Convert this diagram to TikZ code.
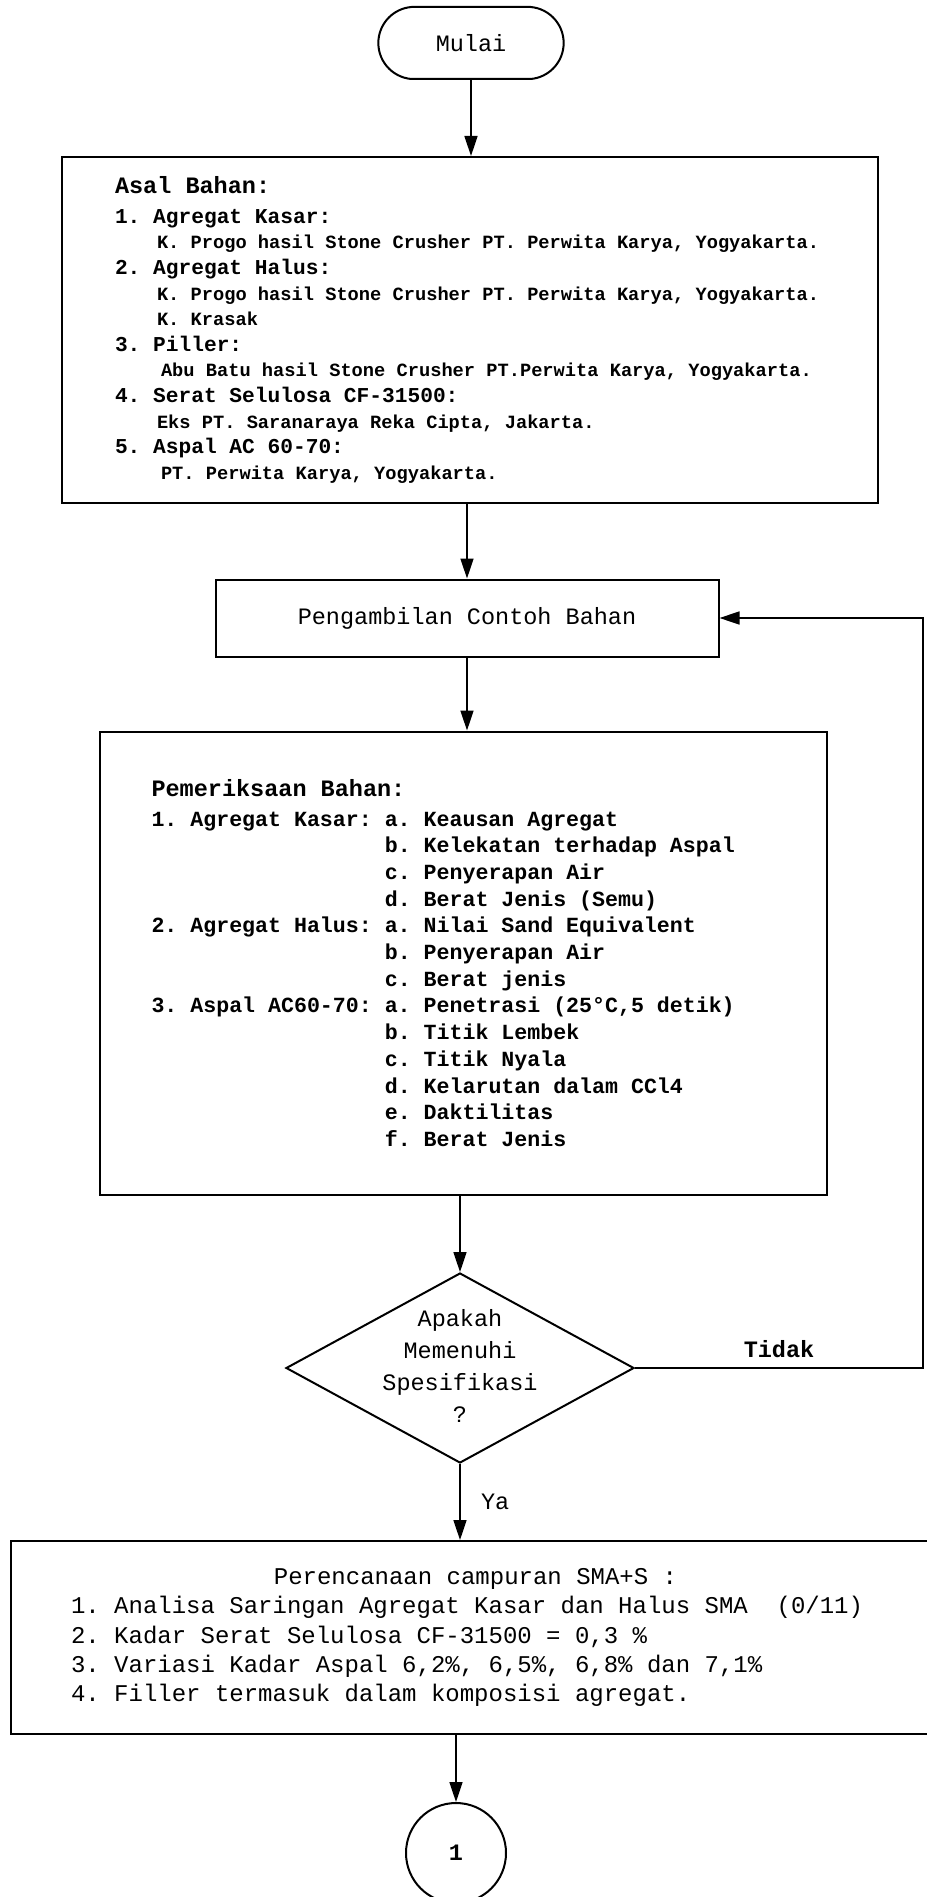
\documentclass[tikz,border=0pt]{standalone}
\usepackage{fontspec}
\setmainfont{Liberation Mono}
\usetikzlibrary{shapes, arrows.meta, positioning, calc}

\newcommand{\teksbesar}{\fontsize{23.5}{32.3}\selectfont}
\newcommand{\tekskecil}{\fontsize{18.7}{25.6}\selectfont}
\newcommand{\butir}[1]{{\fontsize{21.2}{25.6}\selectfont #1}}
\newcommand{\sisip}{\hphantom{1. Agregat Kasar: }}
% monospace: keep the font's own word space
\newcommand{\spasi}{\frenchspacing\spaceskip=0pt\xspaceskip=0pt\relax}

\begin{document}
\begin{tikzpicture}[x=1pt, y=-1pt,
  startbox/.style={draw, rounded rectangle, rounded rectangle arc length=170, line width=2pt, minimum width=192pt, minimum height=72pt, font=\teksbesar},
  procbox/.style={draw, rectangle, line width=2pt, inner sep=0pt},
  decbox/.style={draw, diamond, line width=2pt, minimum width=348pt, minimum height=190pt, inner sep=0pt},
  linkbox/.style={draw, circle, line width=2pt, minimum size=100pt, font=\teksbesar\bfseries},
  flow/.style={-{Triangle[length=20pt, width=13pt]}, line width=1.6pt}]
  \useasboundingbox (0,0) rectangle (926,1897);

  % Mulai
  \node[startbox] (mulai) at (471,43) {Mulai};

  % Asal bahan
  \node[procbox, minimum width=816pt, minimum height=346pt, text width=710pt, align=left, font=\bfseries\tekskecil] (asal) at (470,330) {\spasi
    {\fontsize{23.5}{25.6}\selectfont Asal Bahan:}\\[4pt]
    \butir{1. Agregat Kasar:}\\
    \hspace*{42pt}K. Progo hasil Stone Crusher PT. Perwita Karya, Yogyakarta.\\
    \butir{2. Agregat Halus:}\\
    \hspace*{42pt}K. Progo hasil Stone Crusher PT. Perwita Karya, Yogyakarta.\\
    \hspace*{42pt}K. Krasak\\
    \butir{3. Piller:}\\
    \hspace*{46pt}Abu Batu hasil Stone Crusher PT.Perwita Karya, Yogyakarta.\\
    \butir{4. Serat Selulosa CF-31500:}\\
    \hspace*{42pt}Eks PT. Saranaraya Reka Cipta, Jakarta.\\
    \butir{5. Aspal AC 60-70:}\\
    \hspace*{46pt}PT. Perwita Karya, Yogyakarta.
  };
  \draw[flow] (mulai.south) -- (mulai.south |- asal.north);

  % Pengambilan contoh
  \node[procbox, minimum width=503pt, minimum height=77pt, font=\teksbesar] (ambil) at (467,618) {Pengambilan Contoh Bahan};
  \draw[flow] (ambil.north |- asal.south) -- (ambil.north);

  % Pemeriksaan bahan
  \node[procbox, minimum width=727pt, minimum height=463pt, text width=623pt, align=left, font=\bfseries\fontsize{21.6}{26.7}\selectfont] (periksa) at (463,963) {\spasi
    {\fontsize{23.5}{26.7}\selectfont Pemeriksaan Bahan:}\\[3pt]
    1. Agregat Kasar: a. Keausan Agregat\\
    \sisip b. Kelekatan terhadap Aspal\\
    \sisip c. Penyerapan Air\\
    \sisip d. Berat Jenis (Semu)\\
    2. Agregat Halus: a. Nilai Sand Equivalent\\
    \sisip b. Penyerapan Air\\
    \sisip c. Berat jenis\\
    3. Aspal AC60-70: a. Penetrasi (25°C,5 detik)\\
    \sisip b. Titik Lembek\\
    \sisip c. Titik Nyala\\
    \sisip d. Kelarutan dalam CCl4\\
    \sisip e. Daktilitas\\
    \sisip f. Berat Jenis
  };
  \draw[flow] (ambil.south) -- (ambil.south |- periksa.north);

  % Keputusan
  \node[decbox] (cek) at (460,1368) {};
  \node[font=\teksbesar, align=center, inner sep=0pt] (cektxt) at (460,1366) {Apakah\\Memenuhi\\Spesifikasi\\?};
  \draw[flow] (cek.north |- periksa.south) -- (cek.north);

  % Tidak: kembali ke pengambilan contoh
  \coordinate (balik) at (923,1368);
  \draw[flow] (cek.east) -- node[above=5pt, inner sep=4pt, font=\teksbesar\bfseries] (tidak) {Tidak} (balik) |- (ambil.east);

  % Perencanaan campuran
  \node[procbox, minimum width=929pt, minimum height=193pt, text width=809pt, align=left, font=\fontsize{24}{29.3}\selectfont] (rencana) at (475.5,1637.5) {\spasi
    \centerline{Perencanaan campuran SMA+S :}
    1. Analisa Saringan Agregat Kasar dan Halus SMA~~(0/11)\\
    2. Kadar Serat Selulosa CF-31500 = 0,3 \%\\
    3. Variasi Kadar Aspal 6,2\%, 6,5\%, 6,8\% dan 7,1\%\\
    4. Filler termasuk dalam komposisi agregat.
  };
  \draw[flow] (cek.south) -- node[right=17pt, font=\teksbesar] (ya) {Ya} (cek.south |- rencana.north);

  % Sambungan
  \node[linkbox] (satu) at (456,1853) {1};
  \draw[flow] (satu.north |- rencana.south) -- (satu.north);
\end{tikzpicture}
\end{document}
